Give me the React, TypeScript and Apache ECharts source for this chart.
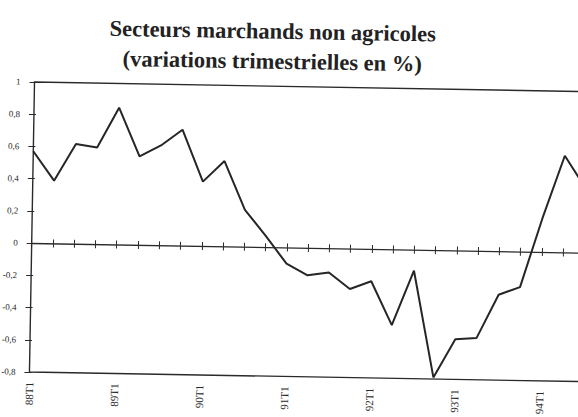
import React, { useEffect, useRef } from "react";
import * as echarts from "echarts";

const titleLines = ["Secteurs marchands non agricoles", "(variations trimestrielles en %)"];

const quarters = [
  "88T1", "88T2", "88T3", "88T4",
  "89T1", "89T2", "89T3", "89T4",
  "90T1", "90T2", "90T3", "90T4",
  "91T1", "91T2", "91T3", "91T4",
  "92T1", "92T2", "92T3", "92T4",
  "93T1", "93T2", "93T3", "93T4",
  "94T1", "94T2", "94T3",
];

const variations = [
  0.57, 0.39, 0.62, 0.6,
  0.85, 0.55, 0.62, 0.72,
  0.4, 0.53, 0.23, 0.07,
  -0.1, -0.17, -0.15, -0.25,
  -0.2, -0.47, -0.13, -0.79,
  -0.55, -0.54, -0.27, -0.22,
  0.21, 0.6, 0.4,
];

const yMin = -0.8;
const yMax = 1;
const yStep = 0.2;

const INK = "#2a2a2a";
const FONT = "'Liberation Serif', 'Times New Roman', serif";

function fmtY(v: number): string {
  if (Math.abs(v) < 1e-9) return "0";
  const r = Math.round(v * 10) / 10;
  if (Math.abs(r - Math.round(r)) < 1e-9) return String(Math.round(r));
  return r.toFixed(1).replace(".", ",");
}

export default function App() {
  const ref = useRef<HTMLDivElement>(null);

  useEffect(() => {
    if (!ref.current) return;
    const chart = echarts.init(ref.current, undefined, { renderer: "svg" });
    const catAxisBase = {
      type: "category" as const,
      data: quarters,
      boundaryGap: false,
    };
    chart.setOption({
      animation: false,
      backgroundColor: "#ffffff",
      textStyle: { fontFamily: FONT },
      title: {
        text: titleLines.join("\n"),
        left: 269,
        top: 12,
        padding: 0,
        textAlign: "center",
        textStyle: {
          fontFamily: FONT,
          fontWeight: "bold",
          fontSize: 22.5,
          lineHeight: 30,
          color: "#222",
        },
      },
      grid: {
        left: 31.7,
        right: 15.5,
        top: 82,
        bottom: 45,
        show: true,
        borderColor: INK,
        borderWidth: 1.4,
        backgroundColor: "transparent",
        containLabel: false,
        outerBoundsMode: "none",
      },
      xAxis: [
        {
          ...catAxisBase,
          position: "bottom",
          axisLine: { show: false, onZero: false },
          axisTick: { show: false },
          splitLine: { show: false },
          axisLabel: {
            interval: 3,
            rotate: 90,
            margin: 10,
            fontFamily: FONT,
            fontSize: 11,
            color: INK,
          },
        },
        {
          ...catAxisBase,
          position: "bottom",
          axisLine: { show: true, onZero: true, lineStyle: { color: INK, width: 1.3 } },
          axisTick: { show: true, interval: 0, length: 4, lineStyle: { color: INK, width: 1 } },
          axisLabel: { show: false },
          splitLine: { show: false },
        },
        {
          ...catAxisBase,
          position: "top",
          axisLine: { show: false, onZero: true },
          axisTick: { show: true, interval: 0, length: 4, lineStyle: { color: INK, width: 1 } },
          axisLabel: { show: false },
          splitLine: { show: false },
        },
      ],
      yAxis: [
        {
          type: "value",
          position: "left",
          min: yMin,
          max: yMax,
          interval: yStep,
          axisLine: { show: false },
          axisTick: { show: true, length: 5, lineStyle: { color: INK, width: 1 } },
          splitLine: { show: false },
          axisLabel: {
            margin: 14,
            fontFamily: FONT,
            fontSize: 9,
            color: INK,
            formatter: (v: number) => fmtY(v),
          },
        },
        {
          type: "value",
          position: "left",
          min: yMin,
          max: yMax,
          interval: yStep,
          axisLine: { show: false },
          axisTick: { show: true, inside: true, length: 2, lineStyle: { color: INK, width: 1 } },
          splitLine: { show: false },
          axisLabel: { show: false },
        },
      ],
      series: [
        {
          type: "line",
          xAxisIndex: 0,
          yAxisIndex: 0,
          data: variations,
          symbol: "none",
          lineStyle: { color: "#262626", width: 2 },
        },
      ],
    });
    return () => chart.dispose();
  }, []);

  return (
    <div
      style={{
        position: "fixed",
        left: 0,
        top: 0,
        width: 578,
        height: 417,
        overflow: "hidden",
        background: "#ffffff",
      }}
    >
      <div
        ref={ref}
        style={{
          width: 600,
          height: 417,
          transform: "rotate(1deg)",
          transformOrigin: "31.7px 243px",
        }}
      />
    </div>
  );
}
